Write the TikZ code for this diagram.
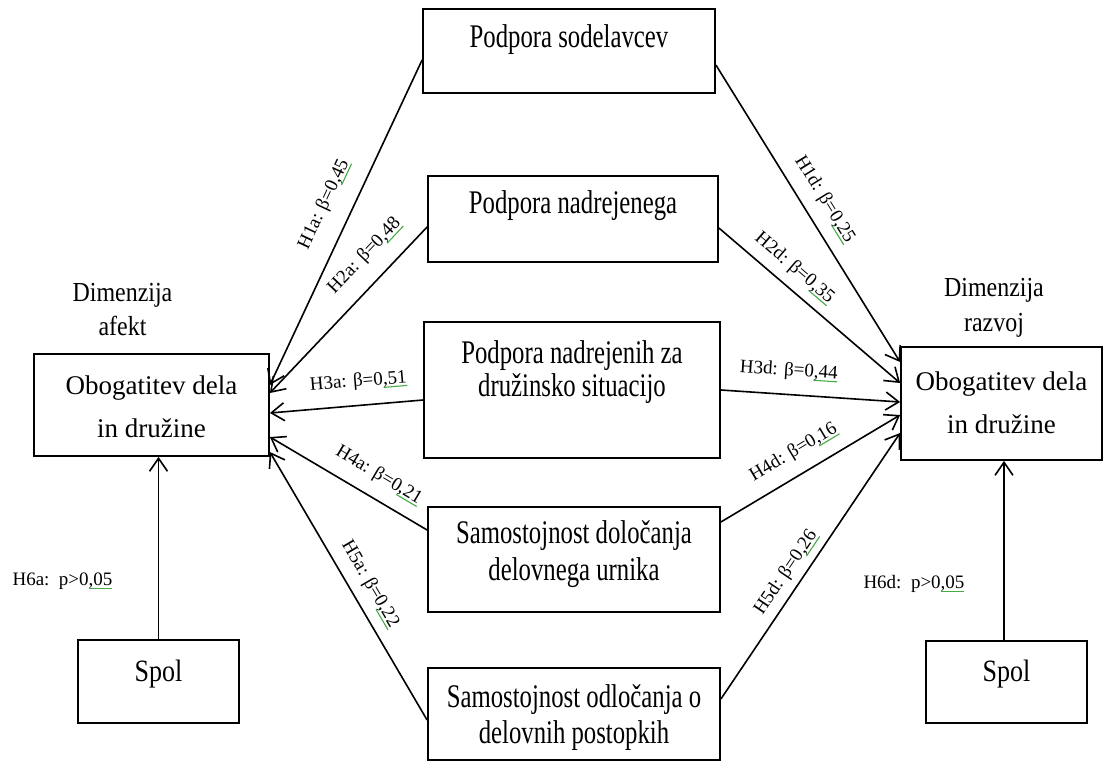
\documentclass[tikz,border=0pt]{standalone}
\usepackage{fontspec}
\setmainfont{Liberation Serif}
\usetikzlibrary{arrows.meta}
\definecolor{spell}{RGB}{70,170,70}
% green proofing underline under a piece of text
\newcommand\spellmark[1]{\setbox0\hbox{#1}\rlap{\color{spell}\raisebox{-3.5pt}{\rule{\wd0}{1.1pt}}}\box0}
\begin{document}
\begin{tikzpicture}[x=1pt,y=-1pt,
  box/.style={draw, line width=1.8pt, rectangle, inner sep=0pt},
  txt/.style={inner sep=0pt, align=center, xscale=0.75, font=\fontsize{33}{#1}\selectfont},
  big/.style={inner sep=0pt, align=center, font=\fontsize{27}{43}\selectfont},
  dim/.style={inner sep=0pt, align=center, xscale=0.87, font=\fontsize{27.5}{#1}\selectfont},
  spol/.style={inner sep=0pt, xscale=0.84, font=\fontsize{31}{34}\selectfont},
  link/.style={line width=1.6pt, -{Straight Barb[length=13pt,width=18pt]}},
  lbl/.style={inner sep=0pt, sloped, font=\fontsize{19}{22}\selectfont},
  note/.style={inner sep=0pt, font=\fontsize{19}{22}\selectfont}]
\useasboundingbox (0,0) rectangle (1119,769);

% predictor boxes
\node[box, minimum width=292pt, minimum height=84pt]  (b1) at (569,51) {};
\node[box, minimum width=290pt, minimum height=86pt]  (b2) at (573,219) {};
\node[box, minimum width=296pt, minimum height=136pt] (b3) at (572,390) {};
\node[box, minimum width=292pt, minimum height=105pt] (b4) at (574,559.5) {};
\node[box, minimum width=292pt, minimum height=92pt]  (b5) at (574,714) {};

\node[txt=36] (t1) at (569,40) {Podpora sodelavcev};
\node[txt=36] (t2) at (573,206) {Podpora nadrejenega};
\node[txt=33] (t3) at (572,372) {Podpora nadrejenih za\\družinsko situacijo};
\node[txt=37] (t4) at (574,554) {Samostojnost določanja\\delovnega urnika};
\node[txt=36] (t5) at (574,718) {Samostojnost odločanja o\\delovnih postopkih};

% outcome boxes
\node[box, minimum width=235pt, minimum height=102pt] (L) at (151.5,405) {};
\node[box, minimum width=201pt, minimum height=113pt] (R) at (1001.5,403.5) {};
\node[big] (tL) at (151.5,407) {Obogatitev dela\\in družine};
\node[big] (tR) at (1001.5,403) {Obogatitev dela\\in družine};

\node[dim=34] (dL) at (122.5,310) {Dimenzija\\afekt};
\node[dim=35] (dR) at (994,307.5) {Dimenzija\\razvoj};

% control variable
\node[box, minimum width=161pt, minimum height=83pt] (sL) at (158.5,681.5) {};
\node[box, minimum width=161pt, minimum height=82pt] (sR) at (1006.5,682) {};
\node[spol] (tsL) at (158.5,674) {Spol};
\node[spol] (tsR) at (1006.5,674) {Spol};

% paths to the affect dimension
\draw[link] ([yshift=-9pt]b1.west) -- node[lbl, pos=0.48, above=18pt] {H1a: β=0\spellmark{,45}} ([yshift=20pt]L.east);
\draw[link] ([yshift=-8pt]b2.west) -- node[lbl, pos=0.28, above=16pt] {H2a: β=0\spellmark{,48}} ([yshift=12pt]L.east);
\draw[link] ([yshift=-10pt]b3.west) -- node[lbl, pos=0.41, above=14pt] {H3a: β=0\spellmark{,51}} ([yshift=-8pt]L.east);
\draw[link] ([yshift=29.5pt]b4.west) -- node[lbl, pos=0.38, above=13pt] {H4a: β=0\spellmark{,21}} ([yshift=-32pt]L.east);
\draw[link] ([yshift=-6pt]b5.west) -- node[lbl, pos=0.47, above=10pt] {H5a: β=0\spellmark{,22}} ([yshift=-47pt]L.east);

% paths to the development dimension
\draw[link] ([yshift=-14pt]b1.east) -- node[lbl, pos=0.49, above=12pt] {H1d: β=0\spellmark{,25}} ([yshift=41.5pt]R.west);
\draw[link] ([yshift=-9pt]b2.east) -- node[lbl, pos=0.35, above=9pt] {H2d: β=0\spellmark{,35}} ([yshift=20.5pt]R.west);
\draw[link] (b3.east) -- node[lbl, pos=0.37, above=14pt] {H3d: β=0\spellmark{,44}} ([yshift=1.5pt]R.west);
\draw[link] ([yshift=37.5pt]b4.east) -- node[lbl, pos=0.47, above=13pt] {H4d: β=0\spellmark{,16}} ([yshift=-11.5pt]R.west);
\draw[link] ([yshift=15pt]b5.east) -- node[lbl, pos=0.44, above=7pt] {H5d: β=0\spellmark{,26}} ([yshift=-29.5pt]R.west);

% gender effects
\draw[link] (sL.north) -- (sL.north |- L.south);
\draw[link] ([xshift=-2.5pt]sR.north) -- ([xshift=-2.5pt]sR.north |- R.south);
\node[note] (h6a) at (62.5,581) {H6a:\ \ p>0\spellmark{,05}};
\node[note] (h6d) at (914,584) {H6d:\ \ p>0\spellmark{,05}};
\end{tikzpicture}
\end{document}
